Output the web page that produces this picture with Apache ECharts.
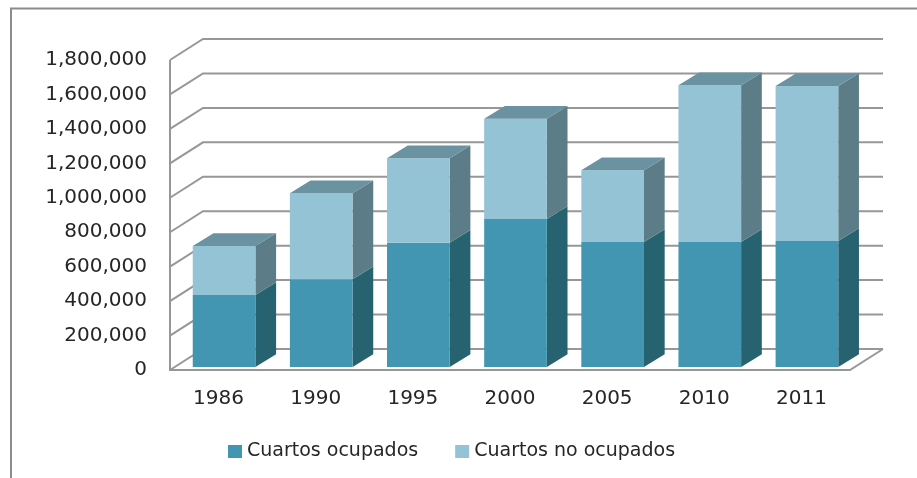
<!DOCTYPE html>
<html><head><meta charset="utf-8">
<script src="https://cdn.jsdelivr.net/npm/echarts@6/dist/echarts.min.js"></script>
<style>html,body{margin:0;padding:0;background:#fff}#c{width:917px;height:478px}</style>
</head><body><div id="c"></div>
<script>
const years = ['1986', '1990', '1995', '2000', '2005', '2010', '2011'];
const ocupados = [418000, 510000, 722000, 860000, 726000, 726000, 732000];
const noOcupados = [285000, 499000, 490000, 582000, 416000, 910000, 900000];
const yTicks = [0, 200000, 400000, 600000, 800000, 1000000, 1200000, 1400000, 1600000, 1800000];
const seriesNames = ['Cuartos ocupados', 'Cuartos no ocupados'];

const DX = 33, DY = -21;          // depth of the plot box
const FX = 5.5, FY = -3;          // bar front face offset
const BDX = 20.7, BDY = -12.7;    // bar depth
const BAR_FRAC = 0.645;
const FONT = 'DejaVu Sans';
const TXT = '#262626';
const GRID_C = '#979797';

const COLORS = {
  occ: {front: '#4296B1', side: '#266270'},
  no: {front: '#93C3D5', side: '#5C7D87', top: '#6B92A0'}
};

function wallsRender(params, api) {
  const v = api.value(1);
  const cs = params.coordSys;
  const y = api.coord([0, v])[1];
  const x0 = cs.x, x1 = cs.x + cs.width;
  const style = {stroke: GRID_C, lineWidth: 2, fill: null};
  const children = [{
    type: 'polyline',
    shape: {points: [[x0, y], [x0 + DX, y + DY], [x1 + DX, y + DY]]},
    style: style
  }];
  if (v === 0) {
    const yTop = api.coord([0, yTicks[yTicks.length - 1]])[1];
    children.push({type: 'polyline', shape: {points: [[x0, yTop], [x0, y], [x1, y], [x1 + DX, y + DY]]}, style: style});
  }
  return {type: 'group', children: children};
}

function makeBarRender(key, drawTop) {
  return function (params, api) {
    const i = api.value(0);
    const base = api.value(1);
    const val = api.value(2);
    const c = api.coord([i, base]);
    const yb = c[1] + FY;
    const yt = api.coord([i, base + val])[1] + FY;
    const bw = api.size([1, 0])[0] * BAR_FRAC;
    const xl = c[0] - bw / 2 + FX, xr = c[0] + bw / 2 + FX;
    const col = COLORS[key];
    const children = [
      {type: 'polygon', shape: {points: [[xr, yb], [xr + BDX, yb + BDY], [xr + BDX, yt + BDY], [xr, yt]]}, style: {fill: col.side}},
      {type: 'rect', shape: {x: xl, y: yt, width: bw, height: yb - yt}, style: {fill: col.front}}
    ];
    if (drawTop) {
      children.push({type: 'polygon', shape: {points: [[xl, yt], [xr, yt], [xr + BDX, yt + BDY], [xl + BDX, yt + BDY]]}, style: {fill: col.top}});
    }
    return {type: 'group', children: children};
  };
}

const chart = echarts.init(document.getElementById('c'), null, {renderer: 'canvas'});
chart.setOption({
  animation: false,
  backgroundColor: '#fff',
  grid: {left: 170, right: 67, top: 60, bottom: 108},
  xAxis: {
    type: 'category', data: years,
    axisLine: {show: false}, axisTick: {show: false},
    axisLabel: {fontSize: 20, fontFamily: FONT, color: TXT, margin: 19}
  },
  yAxis: {
    type: 'value', min: 0, max: yTicks[yTicks.length - 1], interval: yTicks[1] - yTicks[0],
    axisLine: {show: false}, axisTick: {show: false}, splitLine: {show: false},
    axisLabel: {fontSize: 20, fontFamily: FONT, color: TXT, margin: 23,
      formatter: v => v.toLocaleString('en-US')}
  },
  legend: {
    left: 228, top: 442, padding: 0, itemWidth: 14, itemHeight: 13, itemGap: 37, icon: 'rect',
    data: seriesNames,
    textStyle: {fontSize: 19, fontFamily: FONT, color: TXT}
  },
  graphic: [{
    type: 'polyline', silent: true,
    shape: {points: [[11, 478], [11, 8.5], [917, 8.5]]},
    style: {stroke: '#8C8C8C', lineWidth: 2, fill: null}
  }],
  series: [
    {
      type: 'custom', name: 'walls', clip: false, z: 1,
      data: yTicks.map(v => [0, v]),
      renderItem: wallsRender, silent: true
    },
    {
      type: 'custom', name: seriesNames[0], clip: false, z: 2,
      itemStyle: {color: COLORS.occ.front},
      data: years.map((y, i) => [i, 0, ocupados[i]]),
      renderItem: makeBarRender('occ', false)
    },
    {
      type: 'custom', name: seriesNames[1], clip: false, z: 2,
      itemStyle: {color: COLORS.no.front},
      data: years.map((y, i) => [i, ocupados[i], noOcupados[i]]),
      renderItem: makeBarRender('no', true)
    }
  ]
});
</script>
</body></html>
